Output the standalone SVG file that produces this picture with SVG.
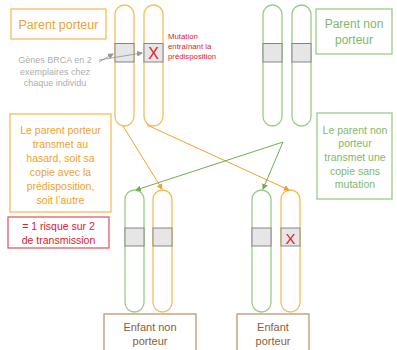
<svg xmlns="http://www.w3.org/2000/svg" width="397" height="350" viewBox="0 0 397 350">
<style>
text{font-family:"Liberation Sans",Arial,sans-serif;text-anchor:middle}
.o{fill:none;stroke:#F6BE5C;stroke-width:1.3}
.g{fill:none;stroke:#9CCB8A;stroke-width:1.3}
.b{fill:none;stroke:#B88E6C;stroke-width:1.2}
.r{fill:none;stroke:#E0505A;stroke-width:1.2}
.band{fill:#E6E6E6;stroke:#858585;stroke-width:1}
.to{fill:#F0A22E}
.tg{fill:#7FB86A}
.tb{fill:#8A5E3E}
.tr{fill:#E0202C}
.tgr{fill:#AEAEAE}
</style>
<defs>
<marker id="ao" markerWidth="6" markerHeight="6" refX="5" refY="3" orient="auto" markerUnits="userSpaceOnUse"><path d="M0,0 L6,3 L0,6 z" fill="#F0A22E"/></marker>
<marker id="ag" markerWidth="6" markerHeight="6" refX="5" refY="3" orient="auto" markerUnits="userSpaceOnUse"><path d="M0,0 L6,3 L0,6 z" fill="#6FAE55"/></marker>
<marker id="agr" markerWidth="6" markerHeight="6" refX="5" refY="3" orient="auto" markerUnits="userSpaceOnUse"><path d="M0,0 L6,3 L0,6 z" fill="#9A9A9A"/></marker>
</defs>

<g id="parent-porteur">
<rect class="o" x="11" y="9" width="95" height="30"/>
<text class="to" x="58.5" y="29" font-size="12.5">Parent porteur</text>
</g>

<g id="parent-non-porteur">
<rect class="g" x="316" y="9" width="76" height="45"/>
<text class="tg" x="354" y="28" font-size="12">Parent non</text>
<text class="tg" x="354" y="44" font-size="12">porteur</text>
</g>

<g id="chromosomes-parent-porteur">
<rect class="o" x="115" y="5" width="19" height="121" rx="9.5"/>
<rect class="o" x="144" y="5" width="19" height="121" rx="9.5"/>
<rect class="band" x="115" y="43.5" width="19" height="18.5"/>
<rect class="band" x="144" y="43.5" width="19" height="18.5"/>
<text class="tr" x="153.5" y="59" font-size="16">X</text>
</g>

<g id="chromosomes-parent-non-porteur">
<rect class="g" x="263" y="5" width="19" height="121" rx="9.5"/>
<rect class="g" x="292" y="5" width="19" height="121" rx="9.5"/>
<rect class="band" x="263" y="43.5" width="19" height="18.5"/>
<rect class="band" x="292" y="43.5" width="19" height="18.5"/>
</g>

<g id="label-genes">
<text class="tgr" x="55" y="63" font-size="9">Gènes BRCA en 2</text>
<text class="tgr" x="55" y="75" font-size="9">exemplaires chez</text>
<text class="tgr" x="55" y="86" font-size="9">chaque individu</text>
</g>

<g id="label-mutation">
<text class="tr" x="168" y="39" font-size="7.8" style="text-anchor:start">Mutation</text>
<text class="tr" x="168" y="49" font-size="7.8" style="text-anchor:start">entraînant la</text>
<text class="tr" x="168" y="59" font-size="7.8" style="text-anchor:start">prédisposition</text>
</g>

<g id="info-porteur">
<rect class="o" x="10" y="114" width="101" height="98"/>
<text class="to" x="60.5" y="134" font-size="10.5">Le parent porteur</text>
<text class="to" x="60.5" y="148" font-size="10.5">transmet au</text>
<text class="to" x="60.5" y="162" font-size="10.5">hasard, soit sa</text>
<text class="to" x="60.5" y="176" font-size="10.5">copie avec la</text>
<text class="to" x="60.5" y="190" font-size="10.5">prédisposition,</text>
<text class="to" x="60.5" y="204" font-size="10.5">soit l’autre</text>
</g>

<g id="risque">
<rect class="r" x="8" y="217" width="101" height="31"/>
<text class="tr" x="58.5" y="230" font-size="10.5">= 1 risque sur 2</text>
<text class="tr" x="58.5" y="244" font-size="10.5">de transmission</text>
</g>

<g id="info-non-porteur">
<rect class="g" x="317" y="113" width="75" height="86"/>
<text class="tg" x="355" y="134" font-size="10.5">Le parent non</text>
<text class="tg" x="355" y="147" font-size="10.5">porteur</text>
<text class="tg" x="355" y="161" font-size="10.5">transmet une</text>
<text class="tg" x="355" y="175" font-size="10.5">copie sans</text>
<text class="tg" x="355" y="188" font-size="10.5">mutation</text>
</g>

<g id="chromosomes-enfant-non-porteur">
<rect class="g" x="125" y="190" width="19" height="122" rx="9.5"/>
<rect class="o" x="153" y="190" width="19" height="122" rx="9.5"/>
<rect class="band" x="125" y="228" width="19" height="18"/>
<rect class="band" x="153" y="228" width="19" height="18"/>
</g>

<g id="chromosomes-enfant-porteur">
<rect class="g" x="252" y="190" width="19" height="122" rx="9.5"/>
<rect class="o" x="281" y="190" width="19" height="122" rx="9.5"/>
<rect class="band" x="252" y="228" width="19" height="18"/>
<rect class="band" x="281" y="228" width="19" height="18"/>
<text class="tr" x="290.5" y="243.5" font-size="15">X</text>
</g>

<g id="enfant-non-porteur">
<rect class="b" x="104" y="314" width="92" height="40"/>
<text class="tb" x="150" y="331" font-size="11">Enfant non</text>
<text class="tb" x="150" y="345" font-size="11">porteur</text>
</g>

<g id="enfant-porteur">
<rect class="b" x="237" y="314" width="72" height="40"/>
<text class="tb" x="273" y="331" font-size="11">Enfant</text>
<text class="tb" x="273" y="345" font-size="11">porteur</text>
</g>

<g id="connectors">
<line x1="99" y1="62" x2="113" y2="54" stroke="#9A9A9A" stroke-width="0.9" marker-end="url(#agr)"/>
<line x1="99" y1="60" x2="142" y2="53" stroke="#9A9A9A" stroke-width="0.9" marker-end="url(#agr)"/>
<line x1="123" y1="126" x2="162" y2="189" stroke="#F0A22E" stroke-width="1" marker-end="url(#ao)"/>
<line x1="147" y1="125" x2="289" y2="190" stroke="#F0A22E" stroke-width="1" marker-end="url(#ao)"/>
<line x1="283" y1="142" x2="136" y2="190" stroke="#6FAE55" stroke-width="1" marker-end="url(#ag)"/>
<line x1="283" y1="142" x2="263" y2="189" stroke="#6FAE55" stroke-width="1" marker-end="url(#ag)"/>
</g>
</svg>
